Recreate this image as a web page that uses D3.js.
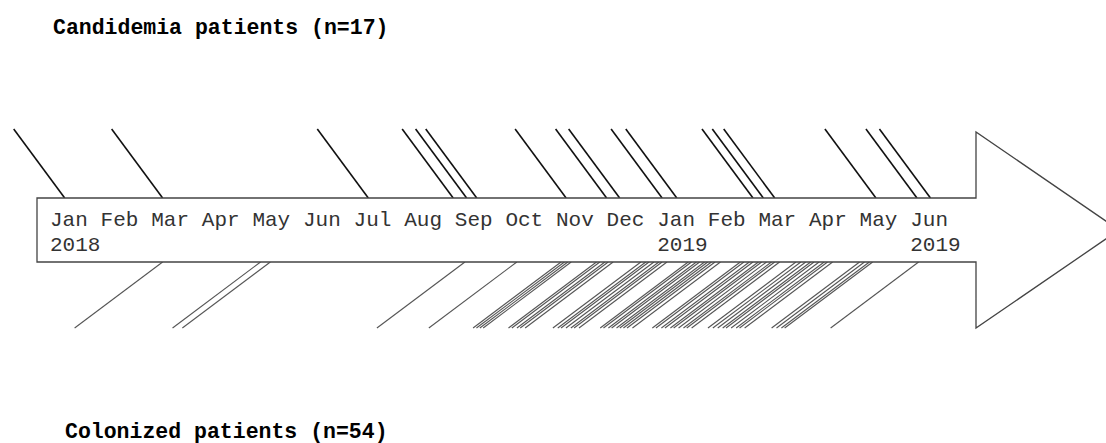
<!DOCTYPE html>
<html>
<head>
<meta charset="utf-8">
<script src="https://cdn.jsdelivr.net/npm/d3@7"></script>
<style>
  body { margin: 0; background: #fff; }
  svg { display: block; }
</style>
</head>
<body>
<div id="chart"></div>
<script>
var svgWidth = 1106;
var svgHeight = 443;

// month labels along the arrow (Jan 2018 .. Jun 2019)
var months = ["Jan", "Feb", "Mar", "Apr", "May", "Jun", "Jul", "Aug", "Sep",
              "Oct", "Nov", "Dec", "Jan", "Feb", "Mar", "Apr", "May", "Jun"];
var yearLabels = [[0, "2018"], [12, "2019"], [17, "2019"]];

// candidemia cases (lines above the arrow)
var candidemia = ["2018-01-10", "2018-03-08", "2018-07-10", "2018-08-31", "2018-09-08",
                  "2018-09-14", "2018-11-07", "2018-12-01", "2018-12-09", "2019-01-04",
                  "2019-01-13", "2019-02-26", "2019-03-04", "2019-03-11", "2019-05-11",
                  "2019-06-05", "2019-06-13"];

// colonized patients (lines below the arrow)
var colonized = ["2018-03-08", "2018-05-06", "2018-05-12", "2018-09-07", "2018-10-08",
                 "2018-11-04", "2018-11-06", "2018-11-08", "2018-11-10",
                 "2018-11-25", "2018-11-27", "2018-11-30", "2018-12-02", "2018-12-05",
                 "2018-12-22", "2018-12-25", "2018-12-27", "2018-12-30", "2019-01-02", "2019-01-04", "2019-01-07",
                 "2019-01-20", "2019-01-22", "2019-01-25", "2019-01-27", "2019-01-30", "2019-02-01", "2019-02-03", "2019-02-05", "2019-02-08",
                 "2019-02-19", "2019-02-21", "2019-02-24", "2019-02-26", "2019-03-01", "2019-03-03", "2019-03-06", "2019-03-09", "2019-03-11", "2019-03-14",
                 "2019-03-24", "2019-03-27", "2019-03-30", "2019-04-02", "2019-04-04", "2019-04-07", "2019-04-10", "2019-04-12", "2019-04-15",
                 "2019-05-01", "2019-05-04", "2019-05-07", "2019-05-09",
                 "2019-06-06"];

var parse = d3.timeParse("%Y-%m-%d");

// position of a date in "month units" from Jan 2018 (labels are evenly spaced)
function monthPos(s) {
  var d = parse(s);
  var start = d3.timeMonth.floor(d);
  var next = d3.timeMonth.offset(start, 1);
  var idx = (d.getFullYear() - 2018) * 12 + d.getMonth();
  return idx + (d - start) / (next - start);
}

var arrow = { left: 37, right: 976, top: 198, bottom: 262, headTop: 132, headBottom: 328, tip: 1119 };

var x = d3.scaleLinear().domain([0, 17]).range([50, 50 + 17 * 50.6]);

var svg = d3.select("#chart")
  .append("svg")
  .attr("width", svgWidth)
  .attr("height", svgHeight);

var mono = "'Liberation Mono', 'Courier New', monospace";

// titles
svg.append("text")
  .attr("x", 53).attr("y", 34)
  .attr("font-family", mono).attr("font-size", "21.5px").attr("font-weight", "bold")
  .text("Candidemia patients (n=17)");

svg.append("text")
  .attr("x", 65).attr("y", 438)
  .attr("font-family", mono).attr("font-size", "21.5px").attr("font-weight", "bold")
  .text("Colonized patients (n=54)");

// lines above: from the arrow's top edge going up-left
svg.append("g")
  .selectAll("line")
  .data(candidemia)
  .enter()
  .append("line")
  .attr("x1", d => x(monthPos(d)))
  .attr("y1", arrow.top)
  .attr("x2", d => x(monthPos(d)) - 51)
  .attr("y2", arrow.top - 69)
  .attr("stroke", "#111")
  .attr("stroke-width", 1.6);

// lines below: from the arrow's bottom edge going down-left
svg.append("g")
  .selectAll("line")
  .data(colonized)
  .enter()
  .append("line")
  .attr("x1", d => x(monthPos(d)))
  .attr("y1", arrow.bottom)
  .attr("x2", d => x(monthPos(d)) - 88)
  .attr("y2", arrow.bottom + 66)
  .attr("stroke", "#555")
  .attr("stroke-width", 1.1);

// the arrow
var midY = (arrow.top + arrow.bottom) / 2;
var arrowPts = [
  [arrow.left, arrow.top], [arrow.right, arrow.top], [arrow.right, arrow.headTop],
  [arrow.tip, midY], [arrow.right, arrow.headBottom], [arrow.right, arrow.bottom],
  [arrow.left, arrow.bottom]
];
svg.append("path")
  .attr("d", d3.line()(arrowPts) + "Z")
  .attr("fill", "#fff")
  .attr("stroke", "#444")
  .attr("stroke-width", 1.3);

// month and year labels
svg.append("g")
  .selectAll("text")
  .data(months)
  .enter()
  .append("text")
  .attr("x", (d, i) => x(i))
  .attr("y", 226)
  .attr("font-family", mono)
  .attr("font-size", "21px")
  .attr("fill", "#333")
  .text(d => d);

svg.append("g")
  .selectAll("text")
  .data(yearLabels)
  .enter()
  .append("text")
  .attr("x", d => x(d[0]))
  .attr("y", 251)
  .attr("font-family", mono)
  .attr("font-size", "21px")
  .attr("fill", "#333")
  .text(d => d[1]);
</script>
</body>
</html>
